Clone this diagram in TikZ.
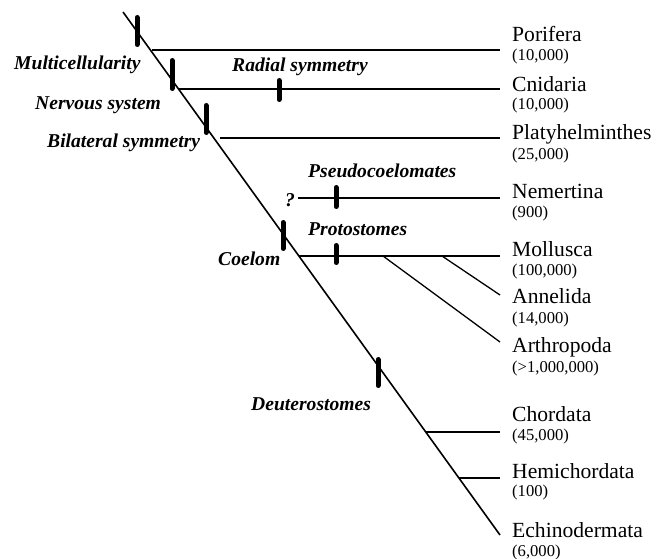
\documentclass[tikz,border=0pt]{standalone}
\usepackage{fontspec}
\setmainfont{Liberation Serif}
\begin{document}
\begin{tikzpicture}[x=1pt,y=-1pt,
  taxon/.style={anchor=base west,inner sep=0pt,font=\fontsize{21.6}{22}\selectfont},
  count/.style={anchor=base west,inner sep=0pt,font=\fontsize{16.6}{17}\selectfont},
  clade/.style={anchor=base west,inner sep=0pt,font=\fontsize{19.6}{20}\selectfont\bfseries\itshape},
  branch/.style={line width=1.3pt},
  trunk/.style={line width=1.6pt},
  bar/.style={line width=5pt,line cap=round}]
\useasboundingbox (0,0) rectangle (667,559);

% trunk
\coordinate (root) at (123,12);
\coordinate (echE) at (500,535);
\draw[trunk] (root) -- (echE);

% branch points and ends
\coordinate (porS) at (152,50);  \coordinate (porE) at (500,50);
\coordinate (cniS) at (179,89);  \coordinate (cniE) at (500,89);
\coordinate (plaS) at (220,138); \coordinate (plaE) at (500,138);
\coordinate (nemS) at (298,198); \coordinate (nemE) at (500,198);
\coordinate (molS) at (299,256); \coordinate (molE) at (500,256);
\coordinate (artS) at (383,256); \coordinate (artE) at (500,342);
\coordinate (annS) at (442,256); \coordinate (annE) at (500,295);
\coordinate (choS) at (426,432); \coordinate (choE) at (500,432);
\coordinate (hemS) at (459,478); \coordinate (hemE) at (500,478);

\draw[branch] (porS) -- (porE);
\draw[branch] (cniS) -- (cniE);
\draw[branch] (plaS) -- (plaE);
\draw[branch] (nemS) -- (nemE);
\draw[branch] (molS) -- (molE);
\draw[branch] (artS) -- (artE);
\draw[branch] (annS) -- (annE);
\draw[branch] (choS) -- (choE);
\draw[branch] (hemS) -- (hemE);

% character bars
\draw[bar] (137,17.5) -- (137,44.5);
\draw[bar] (172,60.5) -- (172,88.5);
\draw[bar] (206,105.5) -- (206,132.5);
\draw[bar] (279,80.5) -- (279,99.5);
\draw[bar] (336,187.5) -- (336,206.5);
\draw[bar] (283,222.5) -- (283,248.5);
\draw[bar] (336,245.5) -- (336,262.5);
\draw[bar] (378,359.5) -- (378,385.5);

% clade labels
\node[clade] (multi) at (14,70) {Multicellularity};
\node[clade] (nerv) at (35,110) {Nervous system};
\node[clade] (bilat) at (47,148) {Bilateral symmetry};
\node[clade] (radial) at (232,72) {Radial symmetry};
\node[clade] (pseudo) at (308,178) {Pseudocoelomates};
\node[clade] (proto) at (308,235) {Protostomes};
\node[clade] (coel) at (218,265) {Coelom};
\node[clade] (deut) at (251,410) {Deuterostomes};
\node[clade] (q) at (285,207) {?};

% taxa
\node[taxon] (por) at (512,42) {Porifera};
\node[count] (porN) at (512,60.5) {(10,000)};
\node[taxon] (cni) at (512,92) {Cnidaria};
\node[count] (cniN) at (512,110) {(10,000)};
\node[taxon] (pla) at (512,140) {Platyhelminthes};
\node[count] (plaN) at (512,160) {(25,000)};
\node[taxon] (nem) at (512,199) {Nemertina};
\node[count] (nemN) at (512,218) {(900)};
\node[taxon] (mol) at (512,256) {Mollusca};
\node[count] (molN) at (512,275) {(100,000)};
\node[taxon] (ann) at (512,303) {Annelida};
\node[count] (annN) at (512,323) {(14,000)};
\node[taxon] (art) at (512,352) {Arthropoda};
\node[count] (artN) at (512,372) {(>1,000,000)};
\node[taxon] (cho) at (512,421) {Chordata};
\node[count] (choN) at (512,440.5) {(45,000)};
\node[taxon] (hem) at (512,478) {Hemichordata};
\node[count] (hemN) at (512,496) {(100)};
\node[taxon] (ech) at (512,537) {Echinodermata};
\node[count] (echN) at (512,556) {(6,000)};
\end{tikzpicture}
\end{document}
